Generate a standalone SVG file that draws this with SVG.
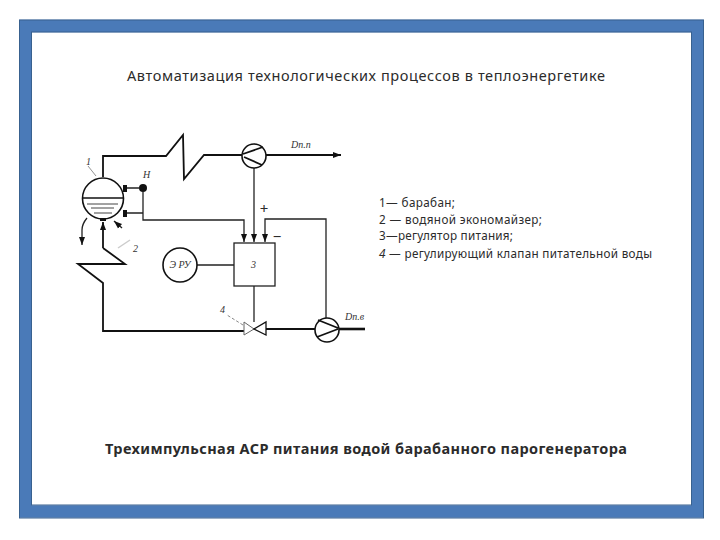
<svg xmlns="http://www.w3.org/2000/svg" width="720" height="540" viewBox="0 0 720 540">
<style>
.t{font-family:"Noto Sans","Open Sans",sans-serif;fill:#2b2b2b}
.h{font-size:14.500px}
.l{font-size:11.700px}
.s{font-family:"Liberation Serif",serif;font-style:italic;font-size:10px;fill:#333}
.w{fill:none;stroke:#111;stroke-width:1.8;stroke-linejoin:miter}
.n{fill:none;stroke:#222;stroke-width:1.3}
.o{fill:#fff;stroke:#111;stroke-width:1.6}
</style>
<defs>
<marker id="a" markerWidth="9" markerHeight="7" refX="8" refY="3.5" orient="auto" markerUnits="userSpaceOnUse"><path d="M0 0.5L8 3.5L0 6.5z" fill="#111"/></marker>
</defs>
<rect width="720" height="540" fill="#fff"/>
<rect x="25.5" y="26" width="672" height="485.500" fill="none" stroke="#4a7ab8" stroke-width="12.500"/>
<rect x="19.500" y="20" width="684" height="498" fill="none" stroke="#38618f" stroke-width="1"/>
<rect x="31.500" y="32" width="660" height="473" fill="none" stroke="#38618f" stroke-width="1"/>
<text class="t h" x="127" y="81" textLength="478">Автоматизация технологических процессов в теплоэнергетике</text>
<g id="legend">
<text class="t l" x="379" y="207" textLength="76">1— барабан;</text>
<text class="t l" x="379" y="224" textLength="163">2 — водяной экономайзер;</text>
<text class="t l" x="379" y="240" textLength="134">3—регулятор питания;</text>
<text class="t l" x="379" y="258" textLength="273"><tspan font-style="italic">4</tspan> — регулирующий клапан питательной воды</text>
</g>
<text class="t" x="105" y="454" font-size="14.500" font-weight="700" textLength="522" fill="#111">Трехимпульсная АСР питания водой барабанного парогенератора</text>
<g id="connectors">
<path class="w" d="M103 177V156H166L183 135L184 179L204 155H242"/>
<path class="w" d="M266 155H341" marker-end="url(#a)"/>
<path class="n" d="M254 168V242" marker-end="url(#a)"/>
<path class="n" d="M143 192V220H244V242" marker-end="url(#a)"/>
<path class="n" d="M126 188H139M126 213H143"/>
<path class="n" d="M326 318V219H265V242" marker-end="url(#a)"/>
<path class="w" d="M103 248V222" marker-end="url(#a)"/>
<path class="w" d="M103 248L125 264H78L103 283V331H244"/>
<path class="w" d="M266 329H315"/>
<path d="M338 329H365" fill="none" stroke="#111" stroke-width="2.600"/>
<path class="n" d="M87 218Q82 224 82 230V245" marker-end="url(#a)"/>
<path class="n" d="M122 228L114 221" marker-end="url(#a)" stroke-width="2"/>
<path class="n" d="M197 265H234"/>
<path class="n" d="M254 286V322"/>
<path d="M88 166L96 176" fill="none" stroke="#777" stroke-width="0.800"/>
<path d="M243 325L227 315" fill="none" stroke="#888" stroke-width="1" stroke-dasharray="3 2"/>
<path d="M118 248L130 240" fill="none" stroke="#ccc" stroke-width="1.500"/>
</g>
<g id="drum">
<circle class="o" cx="103" cy="198.500" r="20.500"/>
<path d="M83 198H123" stroke="#111" stroke-width="1.500"/>
<path d="M87 204H118M91 208H114M94 213H112" stroke="#444" stroke-width="1"/>
<rect x="123" y="185" width="4" height="7" fill="#111"/>
<rect x="123" y="210" width="4" height="7" fill="#111"/>
<rect x="100" y="218" width="6" height="3" fill="#111"/>
<text class="s" x="86" y="165">1</text>
</g>
<g id="sensor"><circle cx="143" cy="188" r="4" fill="#111"/><text class="s" x="143" y="178">Н</text></g>
<g id="steam-meter">
<circle class="o" cx="254" cy="156" r="12"/>
<path d="M243 154L263 147M244 157L262 165" stroke="#111" stroke-width="1.800"/>
<text class="s" x="291" y="148" font-size="9">Dп.п</text>
</g>
<g id="regulator">
<rect x="234" y="243" width="41" height="43" fill="#fff" stroke="#222" stroke-width="1.300"/>
<text class="s" x="251" y="268">3</text>
</g>
<g id="eru"><circle class="o" cx="180" cy="265" r="17"/><text class="s" x="180" y="268" text-anchor="middle">Э РУ</text></g>
<g id="valve">
<path d="M244 322V335L254 329z" fill="#fff" stroke="#666" stroke-width="1"/>
<path d="M266 322V335L254 329z" fill="#fff" stroke="#111" stroke-width="1.300"/>
<text class="s" x="220" y="313">4</text>
</g>
<g id="water-meter">
<circle class="o" cx="327" cy="330" r="12"/>
<path d="M318 320L338 328M317 337L338 329" stroke="#111" stroke-width="1.800"/>
<text class="s" x="345" y="320" font-size="9">Dп.в</text>
</g>
<text class="t" x="264" y="214" font-size="15" text-anchor="middle" fill="#111">+</text>
<text class="t" x="277" y="242" font-size="15" text-anchor="middle" fill="#111">−</text>
<text class="s" x="133" y="252">2</text>
</svg>
